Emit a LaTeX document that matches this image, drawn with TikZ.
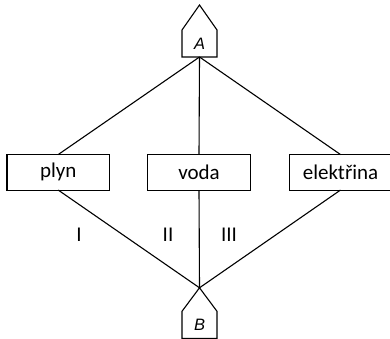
\documentclass[tikz,border=0pt]{standalone}
\usepackage{fontspec}
\setmainfont{Carlito}
\newfontfamily\letterfont{Liberation Sans}
\begin{document}
\begin{tikzpicture}[x=1pt,y=-1pt,
  line width=1.1pt,
  every node/.style={inner sep=0pt, outer sep=0pt},
  itembox/.style={draw, minimum width=102.5pt, minimum height=35.5pt,
    font=\fontsize{21}{25}\selectfont},
  housebox/.style={minimum width=35pt, minimum height=27pt,
    font=\letterfont\itshape\fontsize{16.5}{20}\selectfont},
  linklabel/.style={font=\fontsize{21}{25}\selectfont}]
\useasboundingbox (0,0) rectangle (390,339);

% end points drawn as little house shapes
\node[housebox] (A) at (199.5,43.5) {A};
\node[housebox] (B) at (199.5,324.8) {B};
\coordinate (Atop) at ([yshift=25pt]A.north);
\coordinate (Btop) at ([yshift=23.5pt]B.north);
\draw (A.south west) -- (A.north west) -- (Atop) -- (A.north east)
      -- (A.south east) -- cycle;
\draw (B.south west) -- (B.north west) -- (Btop) -- (B.north east)
      -- (B.south east) -- cycle;

% the three routes
\node[itembox] (plyn) at (58.2,172.3) {plyn};
\node[itembox] (voda) at (199,172.3) {voda};
\node[itembox] (elek) at (340.5,172.3) {elektřina};

\draw (A.south) -- (plyn.north);
\draw (A.south) -- (voda.north);
\draw (A.south) -- (elek.north);
\draw (plyn.south) -- (Btop);
\draw (voda.south) -- (Btop);
\draw (elek.south) -- (Btop);

% route numbers
\node[linklabel] (l1) at (79,235) {I};
\node[linklabel] (l2) at (168,235) {II};
\node[linklabel] (l3) at (229,235) {III};
\end{tikzpicture}
\end{document}
